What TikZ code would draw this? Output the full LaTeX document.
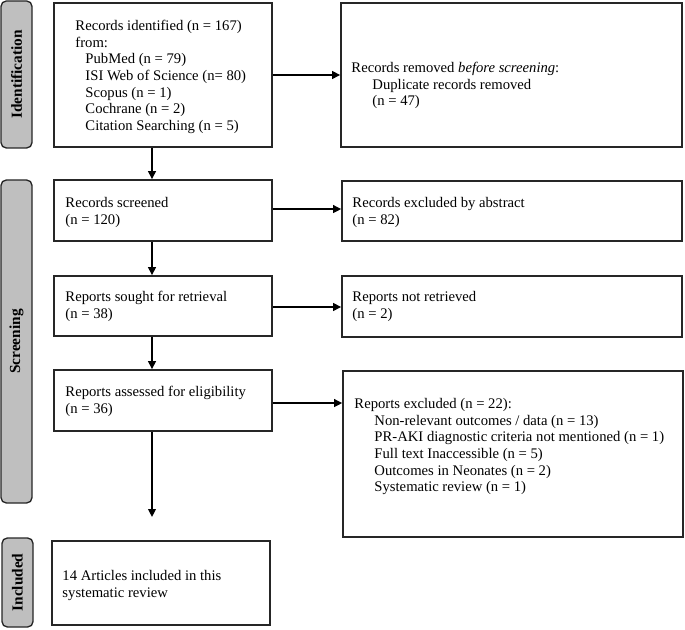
\documentclass[tikz,border=0pt]{standalone}
\usepackage{fontspec}
\setmainfont{Liberation Serif}
\usetikzlibrary{fit,arrows.meta}
\definecolor{sidegray}{RGB}{191,191,191}
\begin{document}
\begin{tikzpicture}[x=0.75pt,y=-0.75pt,
  box/.style={draw=black!85, line width=1.2pt, inner sep=0pt, fill=white},
  side/.style={draw=black!85, line width=1pt, fill=sidegray, rounded corners=4pt, inner sep=0pt},
  sidetxt/.style={rotate=90, font=\fontsize{11.5}{13}\selectfont\bfseries},
  txt/.style={anchor=north west, inner sep=0pt, align=left, font=\fontsize{11}{12.5}\selectfont},
  arr/.style={line width=1.1pt, -{Triangle[length=6pt,width=5.8pt]}}
]
\useasboundingbox (0,0) rectangle (685,630);
% side bars
\node[side, fit={(1,1) (32,148)}] (s1) {};
\node[sidetxt] at (s1.center) {Identification};
\node[side, fit={(1,180) (32,503)}] (s2) {};
\node[sidetxt] at (s2.center) {Screening};
\node[side, fit={(2,538) (33,627)}] (s3) {};
\node[sidetxt] at (s3.center) {Included};
% boxes
\node[box, fit={(54,3) (272,147)}] (b1) {};
\node[box, fit={(341,3) (682,147)}] (b2) {};
\node[box, fit={(54,180) (272,241)}] (b3) {};
\node[box, fit={(342,181) (682,241)}] (b4) {};
\node[box, fit={(54,276) (272,336)}] (b5) {};
\node[box, fit={(342,276) (682,337)}] (b6) {};
\node[box, fit={(54,370) (272,431)}] (b7) {};
\node[box, fit={(343,371) (683,537)}] (b8) {};
\node[box, fit={(52,541) (270,625)}] (b9) {};
% texts
\node[txt] (t1) at ([shift={(22,16.3)}]b1.north west) {\strut Records identified (n = 167)\\from:\\
\hspace*{7.5pt}PubMed (n = 79)\\\hspace*{7.5pt}ISI Web of Science (n= 80)\\\hspace*{7.5pt}Scopus (n = 1)\\
\hspace*{7.5pt}Cochrane (n = 2)\\\hspace*{7.5pt}Citation Searching (n = 5)};
\node[txt] (t2) at ([shift={(11,58.3)}]b2.north west) {\strut Records removed \textit{before screening}:\\
\hspace*{15.75pt}Duplicate records removed\\\hspace*{15.75pt}(n = 47)};
\node[txt] (t3) at ([shift={(12,16.3)}]b3.north west) {\strut Records screened\\(n = 120)};
\node[txt] (t4) at ([shift={(11,15.3)}]b4.north west) {\strut Records excluded by abstract\\(n = 82)};
\node[txt] (t5) at ([shift={(12,14.3)}]b5.north west) {\strut Reports sought for retrieval\\(n = 38)};
\node[txt] (t6) at ([shift={(11,14.3)}]b6.north west) {\strut Reports not retrieved\\(n = 2)};
\node[txt] (t7) at ([shift={(12,15.3)}]b7.north west) {\strut Reports assessed for eligibility\\(n = 36)};
\node[txt] (t8) at ([shift={(12,26.3)}]b8.north west) {\strut Reports excluded (n = 22):\\
\hspace*{15pt}Non-relevant outcomes / data (n = 13)\\
\hspace*{15pt}PR-AKI diagnostic criteria not mentioned (n = 1)\\
\hspace*{15pt}Full text Inaccessible (n = 5)\\
\hspace*{15pt}Outcomes in Neonates (n = 2)\\
\hspace*{15pt}Systematic review (n = 1)};
\node[txt] (t9) at ([shift={(11,28.3)}]b9.north west) {\strut 14 Articles included in this\\systematic review};
% connectors
\coordinate (vx) at (152,0);
\coordinate (e9) at (152,517);
\coordinate (a3) at ([yshift=1.1pt]b3.east);
\coordinate (a5) at ([yshift=-0.75pt]b5.east);
\coordinate (a7) at ([yshift=-1.9pt]b7.east);
\draw[arr] (b1.east) -- (b2.west);
\draw[arr] (b1.south -| vx) -- (b3.north -| vx);
\draw[arr] (a3) -- (b4.west |- a3);
\draw[arr] (b3.south -| vx) -- (b5.north -| vx);
\draw[arr] (a5) -- (b6.west |- a5);
\draw[arr] (b5.south -| vx) -- (b7.north -| vx);
\draw[arr] (a7) -- (b8.west |- a7);
\draw[arr] (b7.south -| vx) -- (e9);
\end{tikzpicture}
\end{document}
